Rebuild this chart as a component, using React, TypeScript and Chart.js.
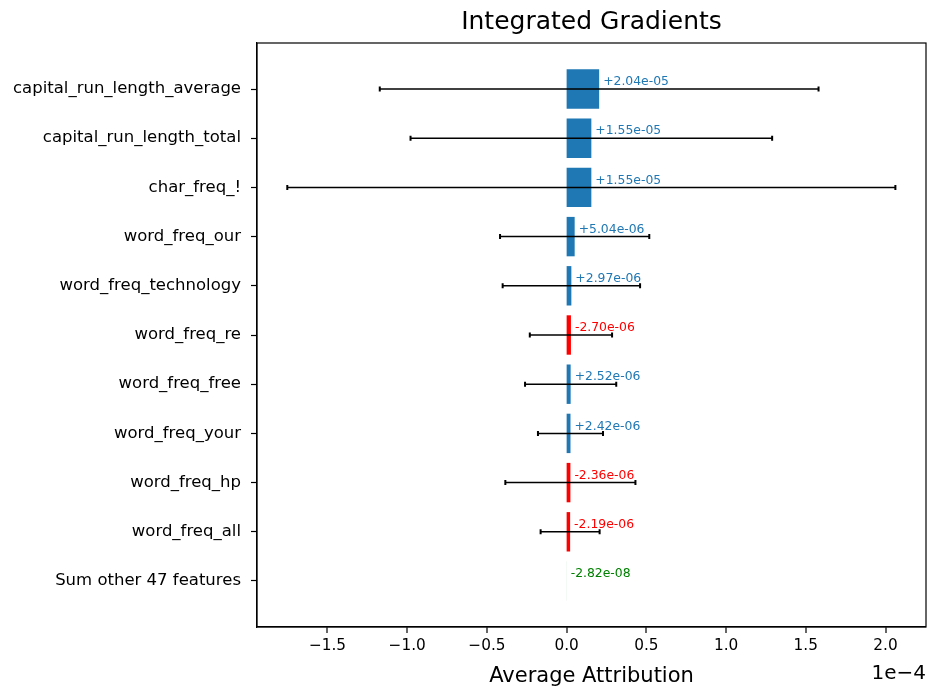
import React, { useEffect, useRef } from "react";
import { Chart, registerables } from "chart.js";

Chart.register(...registerables);

const features = [
  "capital_run_length_average",
  "capital_run_length_total",
  "char_freq_!",
  "word_freq_our",
  "word_freq_technology",
  "word_freq_re",
  "word_freq_free",
  "word_freq_your",
  "word_freq_hp",
  "word_freq_all",
  "Sum other 47 features",
];
const attributions = [
  2.04e-5, 1.55e-5, 1.55e-5, 5.04e-6, 2.97e-6, -2.7e-6, 2.52e-6, 2.42e-6, -2.36e-6, -2.19e-6, -2.82e-8,
];
const errors = [
  1.376e-4, 1.134e-4, 1.907e-4, 4.68e-5, 4.31e-5, 2.58e-5, 2.86e-5, 2.04e-5, 4.08e-5, 1.85e-5, null,
];
const xTicks = [-1.5e-4, -1.0e-4, -0.5e-4, 0, 0.5e-4, 1.0e-4, 1.5e-4, 2.0e-4];
const xMin = -1.942e-4;
const xMax = 2.254e-4;
const offsetText = "1e\u22124";
const titleText = "Integrated Gradients";
const xLabelText = "Average Attribution";

const BLUE = "#1f77b4";
const RED = "#ff0000";
const GREEN = "#008000";
const FONT = "'DejaVu Sans', sans-serif";

const colorFor = (v: number, i: number) =>
  i === features.length - 1 ? GREEN : v >= 0 ? BLUE : RED;

const fmtValue = (v: number) => {
  const [m, e] = Math.abs(v).toExponential(2).split("e");
  const ex = parseInt(e, 10);
  return `${v >= 0 ? "+" : "-"}${m}e${ex < 0 ? "-" : "+"}${String(Math.abs(ex)).padStart(2, "0")}`;
};

const fmtTick = (v: number) => {
  const s = (v * 1e4).toFixed(1);
  return s.startsWith("-") ? "\u2212" + s.slice(1) : s;
};

const overlayPlugin = {
  id: "overlay",
  afterDatasetsDraw(chart: any) {
    const { ctx, scales } = chart;
    const xs = scales.x;
    const ys = scales.y;
    ctx.save();
    ctx.strokeStyle = "#000";
    errors.forEach((err, i) => {
      if (err == null) return;
      const c = Math.abs(attributions[i]);
      const y = ys.getPixelForValue(i);
      const x0 = xs.getPixelForValue(c - err);
      const x1 = xs.getPixelForValue(c + err);
      ctx.lineWidth = 1.5;
      ctx.beginPath();
      ctx.moveTo(x0, y);
      ctx.lineTo(x1, y);
      ctx.stroke();
      ctx.lineWidth = 2;
      ctx.beginPath();
      ctx.moveTo(x0, y - 2.5);
      ctx.lineTo(x0, y + 2.5);
      ctx.moveTo(x1, y - 2.5);
      ctx.lineTo(x1, y + 2.5);
      ctx.stroke();
    });
    ctx.font = `12.4px ${FONT}`;
    ctx.textAlign = "left";
    ctx.textBaseline = "middle";
    attributions.forEach((v, i) => {
      ctx.fillStyle = colorFor(v, i);
      const x = xs.getPixelForValue(Math.abs(v)) + 4;
      const y = ys.getPixelForValue(i) - 7;
      ctx.fillText(fmtValue(v), x, y);
    });
    ctx.restore();
  },
  afterDraw(chart: any) {
    const { ctx, chartArea } = chart;
    const { left, right, top, bottom } = chartArea;
    ctx.save();
    ctx.strokeStyle = "#000";
    ctx.lineWidth = 1.2;
    ctx.strokeRect(left, top, right - left, bottom - top);
    const cx = (left + right) / 2;
    ctx.fillStyle = "#000";
    ctx.textBaseline = "middle";
    ctx.textAlign = "center";
    ctx.font = `25px ${FONT}`;
    ctx.fillText(titleText, cx, 22);
    ctx.font = `21px ${FONT}`;
    ctx.fillText(xLabelText, cx, 677);
    ctx.textAlign = "right";
    ctx.font = `20px ${FONT}`;
    ctx.fillText(offsetText, right, 674);
    ctx.restore();
  },
};

export default function App() {
  const ref = useRef<HTMLCanvasElement | null>(null);
  useEffect(() => {
    if (!ref.current) return;
    const chart = new Chart(ref.current, {
      type: "bar",
      data: {
        datasets: [
          {
            data: attributions.map((v, i) => ({ x: Math.abs(v), y: i })),
            backgroundColor: attributions.map((v, i) => colorFor(v, i)),
            borderWidth: 0,
            inflateAmount: 0,
            barThickness: 39.4,
          } as any,
        ],
      },
      options: {
        indexAxis: "y",
        animation: false,
        responsive: false,
        maintainAspectRatio: false,
        layout: { padding: { top: 43, right: 10, bottom: 0, left: 0 } },
        plugins: {
          legend: { display: false },
          tooltip: { enabled: false },
          title: { display: false },
        },
        scales: {
          x: {
            type: "linear",
            min: xMin,
            max: xMax,
            offset: false,
            afterBuildTicks: (axis: any) => {
              axis.ticks = xTicks.map((v) => ({ value: v }));
            },
            afterFit: (s: any) => {
              s.height = 66;
            },
            ticks: {
              callback: (v: any) => fmtTick(Number(v)),
              color: "#000",
              font: { family: FONT, size: 15.3 },
              padding: 4,
              maxRotation: 0,
              autoSkip: false,
            },
            grid: {
              offset: false,
              drawOnChartArea: false,
              drawTicks: true,
              lineWidth: 0,
              tickLength: 6,
              tickColor: "#000",
              tickWidth: 1.2,
            },
            border: { display: true, color: "#000", width: 1.2 },
          },
          y: {
            type: "linear",
            reverse: true,
            offset: false,
            min: -0.935,
            max: 10.935,
            afterBuildTicks: (axis: any) => {
              axis.ticks = features.map((_, i) => ({ value: i }));
            },
            afterFit: (s: any) => {
              s.width = 257;
            },
            ticks: {
              callback: (v: any) => features[Math.round(Number(v))],
              color: "#000",
              font: { family: FONT, size: 16.5 },
              padding: 10,
              autoSkip: false,
            },
            grid: {
              offset: false,
              drawOnChartArea: false,
              drawTicks: true,
              tickLength: 6,
              tickColor: "#000",
              tickWidth: 1.2,
            },
            border: { display: true, color: "#000", width: 1.2 },
          },
        },
      } as any,
      plugins: [overlayPlugin],
    });
    return () => chart.destroy();
  }, []);
  return (
    <div style={{ position: "fixed", left: 0, top: 0, width: 936, height: 693, background: "#fff" }}>
      <canvas ref={ref} width={936} height={693} style={{ width: 936, height: 693, display: "block" }} />
    </div>
  );
}
